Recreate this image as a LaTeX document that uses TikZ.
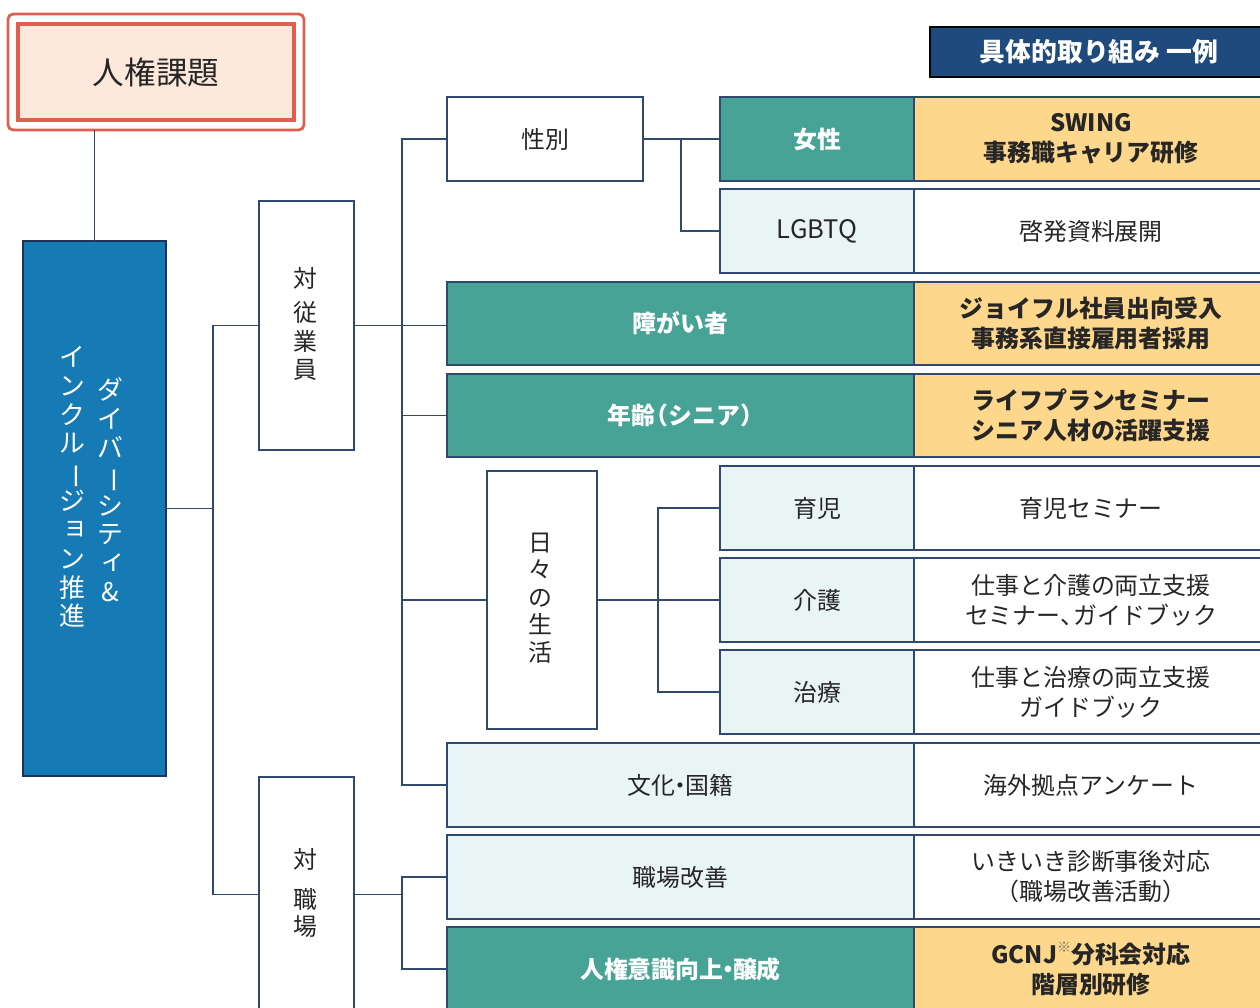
\documentclass[tikz,border=0pt]{standalone}
\usepackage{graphicx}
\usepackage{fontspec}
\setmainfont{Noto Sans CJK JP}
\usetikzlibrary{calc}
\definecolor{lnavy}{HTML}{2F4A6E}
\definecolor{tealc}{HTML}{47A396}
\definecolor{orangec}{HTML}{FDD78B}
\definecolor{lightc}{HTML}{E9F4F4}
\definecolor{dib}{HTML}{167AB5}
\definecolor{dibord}{HTML}{1B3558}
\definecolor{hdrc}{HTML}{1F4A7D}
\definecolor{peach}{HTML}{FCE9DC}
\definecolor{redb}{HTML}{E0604F}
\newcommand\fsN{\fontsize{13.6}{17}\selectfont}
\newcommand\vbar{\rotatebox[origin=c]{-90}{ー}}
\newcommand\vsmall[1]{\makebox[1em][l]{\hspace{0.14em}\raisebox{0.14em}{#1}}}
\newcommand\mkbox[6]{\node[#1, minimum width={(#4-#2)*0.02cm}, minimum height={(#5-#3)*0.02cm}] (#6) at ({(#2+#4)/2},{(#3+#5)/2})}
\tikzset{
  base/.style={draw=lnavy, line width=1.1pt, inner sep=0pt, outer sep=0pt, align=center, font=\fsN, text=black!85},
  tealbox/.style={base, fill=tealc, text=white, font=\fsN\bfseries},
  orbox/.style={base, fill=orangec, font=\fsN\bfseries},
  litebox/.style={base, fill=lightc},
  whbox/.style={base, fill=white},
  titlebox/.style={base, fill=peach, draw=redb, line width=2pt, font=\fontsize{18}{22}\selectfont},
  dibox/.style={base, fill=dib, draw=dibord, line width=1.6pt},
  hdrbox/.style={base, fill=hdrc, draw=black, line width=1.6pt, text=white, font=\fontsize{14.7}{18}\selectfont\bfseries},
  vstack/.style={inner sep=0pt, align=center, text=black!85},
  conn/.style={draw=lnavy, line width=1.1pt},
}
\begin{document}
\begin{tikzpicture}[x=0.02cm, y=-0.02cm]
\clip (0,0) rectangle (1260,1007);
\fill[white] (0,0) rectangle (1260,1007);
% title
\mkbox{titlebox}{18}{24}{294}{120}{title}{人権課題};
\draw[redb, line width=1.6pt, rounded corners=3pt] ($(title.north west)+(-10,-10)$) rectangle ($(title.south east)+(10,10)$);
\coordinate (tout) at ($(title.south)+(0,10)$);
% D&I
\mkbox{dibox}{23}{241}{166}{776}{di}{};
\node[vstack, text=white, font=\fontsize{14.7}{16.4}\selectfont] (dit1) at (110,490) {ダ\\イ\\バ\\\vbar\\シ\\テ\\\vsmall{ィ}\\\&};
\node[vstack, text=white, font=\fontsize{14.7}{16.4}\selectfont] (dit2) at (72,487) {イ\\ン\\ク\\ル\\\vbar\\ジ\\\vsmall{ョ}\\ン\\推\\進};
% second level
\mkbox{whbox}{259}{201}{354}{450}{tj}{};
\node[vstack, font=\fontsize{13.6}{16.2}\selectfont] (tjtext) at (305,324) {対\\[3.4pt]従\\業\\員};
\mkbox{whbox}{259}{777}{354}{1012}{ts}{};
\node[vstack, font=\fontsize{13.6}{15.6}\selectfont] (tstext) at (305,893) {対\\[6.8pt]職\\場};
% header
\mkbox{hdrbox}{930}{27}{1268}{77}{hdr}{具体的取り組み 一例};
% third level
\mkbox{whbox}{447}{97}{643}{181}{sb}{性別};
\mkbox{tealbox}{720}{97}{914}{181}{jo}{女性};
\mkbox{orbox}{914}{97}{1268}{181}{joR}{SWING\\事務職キャリア研修};
\mkbox{litebox}{720}{189}{914}{273}{lg}{\fontsize{14.5}{17}\selectfont LGBTQ};
\mkbox{whbox}{914}{189}{1268}{273}{lgR}{啓発資料展開};
\mkbox{tealbox}{447}{282}{914}{365}{sh}{障がい者};
\mkbox{orbox}{914}{282}{1268}{365}{shR}{ジョイフル社員出向受入\\事務系直接雇用者採用};
\mkbox{tealbox}{447}{374}{914}{457}{ne}{年齢\hspace{-0.45em}（シニア）\hspace{-0.45em}};
\mkbox{orbox}{914}{374}{1268}{457}{neR}{ライフプランセミナー\\シニア人材の活躍支援};
\mkbox{whbox}{487}{471}{597}{729}{hb}{};
\node[vstack, font=\fontsize{13.6}{15.7}\selectfont] (hbtext) at (540,598) {日\\々\\の\\生\\活};
\mkbox{litebox}{720}{466}{914}{550}{ik}{育児};
\mkbox{whbox}{914}{466}{1268}{550}{ikR}{育児セミナー};
\mkbox{litebox}{720}{558}{914}{642}{kg}{介護};
\mkbox{whbox}{914}{558}{1268}{642}{kgR}{仕事と介護の両立支援\\セミナー、\hspace{-0.45em}ガイドブック};
\mkbox{litebox}{720}{650}{914}{734}{cr}{治療};
\mkbox{whbox}{914}{650}{1268}{734}{crR}{仕事と治療の両立支援\\ガイドブック};
\mkbox{litebox}{447}{743}{914}{827}{bk}{文化\hspace{-0.3em}・\hspace{-0.3em}国籍};
\mkbox{whbox}{914}{743}{1268}{827}{bkR}{海外拠点アンケート};
\mkbox{litebox}{447}{835}{914}{919}{sk}{職場改善};
\mkbox{whbox}{914}{835}{1268}{919}{skR}{いきいき診断事後対応\\（職場改善活動）};
\mkbox{tealbox}{447}{927}{914}{1011}{jk}{人権意識向上\hspace{-0.3em}・\hspace{-0.3em}醸成};
\mkbox{orbox}{914}{927}{1268}{1011}{jkR}{GCNJ\raisebox{0.45em}{\fontsize{8}{8}\selectfont\mdseries\color{black!55}※}分科会対応\\階層別研修};
% connectors
\draw[conn] (di.north) -- (di.north |- tout);
\coordinate (b1) at (213,0);
\coordinate (b2) at (402,0);
\coordinate (b3) at (681,0);
\coordinate (b4) at (658,0);
\draw[conn] (di.east) -- (b1 |- di.east);
\draw[conn] (tj.west) -| (b1 |- ts.west) -- (ts.west);
\draw[conn] (tj.east) -- (tj.east -| sh.west);
\draw[conn] (sb.west) -| (b2 |- bk.west) -- (bk.west);
\draw[conn] (b2 |- ne.west) -- (ne.west);
\draw[conn] (b2 |- hb.west) -- (hb.west);
\draw[conn] (sb.east) -- (jo.west);
\draw[conn] (b3 |- jo.west) |- (lg.west);
\draw[conn] (hb.east) -- (kg.west);
\draw[conn] (ik.west) -| (b4 |- cr.west) -- (cr.west);
\draw[conn] (ts.east) -- (b2 |- ts.east);
\draw[conn] (sk.west) -| (b2 |- jk.west) -- (jk.west);
\end{tikzpicture}
\end{document}
